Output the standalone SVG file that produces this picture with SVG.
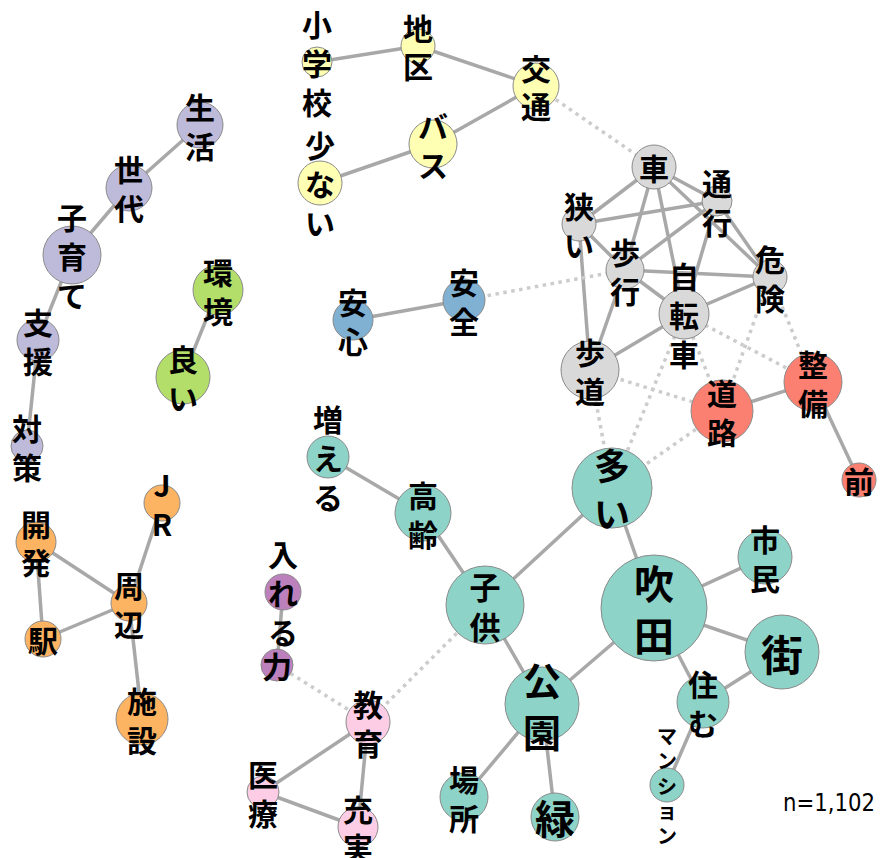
<svg xmlns="http://www.w3.org/2000/svg" width="882" height="858" viewBox="0 0 882 858">
  <style>
    .e { stroke: #a8a8a8; stroke-width: 3.5; fill: none; }
    .d { stroke: #cccccc; stroke-width: 3.5; stroke-dasharray: 3.5 4.5; fill: none; }
    circle { stroke: #8a8a8a; stroke-width: 1; }
    .c1 { fill: #bebada; }
    .c2 { fill: #b3de69; }
    .c3 { fill: #ffffb3; }
    .c4 { fill: #80b1d3; }
    .c5 { fill: #d9d9d9; }
    .c6 { fill: #fb8072; }
    .c7 { fill: #8dd3c7; }
    .c8 { fill: #bc80bd; }
    .c9 { fill: #fccde5; }
    .c10 { fill: #fdb462; }
    text { font-family: "Noto Sans CJK JP", "Noto Sans", sans-serif; font-size: 30px; font-weight: 700; fill: #000; text-anchor: middle; dominant-baseline: central; }
  </style>
  <rect width="882" height="858" fill="#ffffff"/>

  <!-- connectors -->
  <g id="edges">
    <line class="e" x1="200" y1="125" x2="129" y2="188"/>
    <line class="e" x1="129" y1="188" x2="72" y2="255"/>
    <line class="e" x1="72" y1="255" x2="38" y2="340"/>
    <line class="e" x1="38" y1="340" x2="27" y2="446"/>
    <line class="e" x1="218" y1="290" x2="183" y2="377"/>
    <line class="e" x1="317" y1="62" x2="418" y2="46"/>
    <line class="e" x1="418" y1="46" x2="536" y2="86"/>
    <line class="e" x1="536" y1="86" x2="433" y2="144"/>
    <line class="e" x1="433" y1="144" x2="320" y2="183"/>
    <line class="e" x1="353" y1="320" x2="464" y2="300"/>
    <line class="e" x1="654" y1="167" x2="579" y2="224"/>
    <line class="e" x1="654" y1="167" x2="717" y2="201"/>
    <line class="e" x1="654" y1="167" x2="625" y2="270"/>
    <line class="e" x1="654" y1="167" x2="684" y2="314"/>
    <line class="e" x1="654" y1="167" x2="770" y2="277"/>
    <line class="e" x1="579" y1="224" x2="717" y2="201"/>
    <line class="e" x1="579" y1="224" x2="625" y2="270"/>
    <line class="e" x1="579" y1="224" x2="590" y2="370"/>
    <line class="e" x1="717" y1="201" x2="625" y2="270"/>
    <line class="e" x1="717" y1="201" x2="684" y2="314"/>
    <line class="e" x1="717" y1="201" x2="770" y2="277"/>
    <line class="e" x1="625" y1="270" x2="770" y2="277"/>
    <line class="e" x1="625" y1="270" x2="684" y2="314"/>
    <line class="e" x1="625" y1="270" x2="590" y2="370"/>
    <line class="e" x1="684" y1="314" x2="770" y2="277"/>
    <line class="e" x1="684" y1="314" x2="590" y2="370"/>
    <line class="e" x1="722" y1="411" x2="813" y2="382"/>
    <line class="e" x1="813" y1="382" x2="859" y2="480"/>
    <line class="e" x1="328" y1="457" x2="423" y2="513"/>
    <line class="e" x1="423" y1="513" x2="485" y2="605"/>
    <line class="e" x1="485" y1="605" x2="612" y2="488"/>
    <line class="e" x1="485" y1="605" x2="542" y2="704"/>
    <line class="e" x1="612" y1="488" x2="654" y2="608"/>
    <line class="e" x1="654" y1="608" x2="542" y2="704"/>
    <line class="e" x1="654" y1="608" x2="765" y2="557"/>
    <line class="e" x1="654" y1="608" x2="782" y2="652"/>
    <line class="e" x1="654" y1="608" x2="703" y2="702"/>
    <line class="e" x1="703" y1="702" x2="782" y2="652"/>
    <line class="e" x1="703" y1="702" x2="667" y2="785"/>
    <line class="e" x1="542" y1="704" x2="464" y2="797"/>
    <line class="e" x1="542" y1="704" x2="555" y2="817"/>
    <line class="e" x1="283" y1="592" x2="277" y2="665"/>
    <line class="e" x1="368" y1="722" x2="263" y2="792"/>
    <line class="e" x1="368" y1="722" x2="358" y2="827"/>
    <line class="e" x1="263" y1="792" x2="358" y2="827"/>
    <line class="e" x1="36" y1="542" x2="129" y2="603"/>
    <line class="e" x1="36" y1="542" x2="43" y2="639"/>
    <line class="e" x1="43" y1="639" x2="129" y2="603"/>
    <line class="e" x1="162" y1="503" x2="129" y2="603"/>
    <line class="e" x1="129" y1="603" x2="142" y2="719"/>
    <line class="d" x1="536" y1="86" x2="654" y2="167"/>
    <line class="d" x1="464" y1="300" x2="625" y2="270"/>
    <line class="d" x1="770" y1="277" x2="813" y2="382"/>
    <line class="d" x1="770" y1="277" x2="722" y2="411"/>
    <line class="d" x1="684" y1="314" x2="813" y2="382"/>
    <line class="d" x1="684" y1="314" x2="722" y2="411"/>
    <line class="d" x1="684" y1="314" x2="612" y2="488"/>
    <line class="d" x1="590" y1="370" x2="722" y2="411"/>
    <line class="d" x1="590" y1="370" x2="612" y2="488"/>
    <line class="d" x1="722" y1="411" x2="612" y2="488"/>
    <line class="d" x1="485" y1="605" x2="368" y2="722"/>
    <line class="d" x1="277" y1="665" x2="368" y2="722"/>
  </g>

  <!-- word nodes -->
  <g id="seikatsu"><circle class="c1" cx="200" cy="125" r="23"/><text><tspan x="200" y="106">生</tspan><tspan x="200" y="145">活</tspan></text></g>
  <g id="sedai"><circle class="c1" cx="129" cy="188" r="23"/><text><tspan x="129" y="168">世</tspan><tspan x="129" y="207">代</tspan></text></g>
  <g id="kosodate"><circle class="c1" cx="72" cy="255" r="29"/><text><tspan x="72" y="216">子</tspan><tspan x="72" y="255">育</tspan><tspan x="72" y="294">て</tspan></text></g>
  <g id="shien"><circle class="c1" cx="38" cy="340" r="21"/><text><tspan x="38" y="321">支</tspan><tspan x="38" y="360">援</tspan></text></g>
  <g id="taisaku"><circle class="c1" cx="27" cy="446" r="16"/><text><tspan x="27" y="427">対</tspan><tspan x="27" y="466">策</tspan></text></g>

  <g id="kankyo"><circle class="c2" cx="218" cy="290" r="25"/><text><tspan x="218" y="271">環</tspan><tspan x="218" y="310">境</tspan></text></g>
  <g id="yoi"><circle class="c2" cx="183" cy="377" r="27"/><text><tspan x="183" y="358">良</tspan><tspan x="183" y="397">い</tspan></text></g>

  <g id="shogakko"><circle class="c3" cx="317" cy="62" r="15"/><text><tspan x="317" y="23">小</tspan><tspan x="317" y="62">学</tspan><tspan x="317" y="101">校</tspan></text></g>
  <g id="chiku"><circle class="c3" cx="418" cy="46" r="17"/><text><tspan x="418" y="27">地</tspan><tspan x="418" y="65">区</tspan></text></g>
  <g id="kotsu"><circle class="c3" cx="536" cy="86" r="23"/><text><tspan x="536" y="67">交</tspan><tspan x="536" y="105">通</tspan></text></g>
  <g id="basu"><circle class="c3" cx="433" cy="144" r="24"/><text><tspan x="433" y="125">バ</tspan><tspan x="433" y="164">ス</tspan></text></g>
  <g id="sukunai"><circle class="c3" cx="320" cy="183" r="22"/><text><tspan x="320" y="144">少</tspan><tspan x="320" y="183">な</tspan><tspan x="320" y="222">い</tspan></text></g>

  <g id="anshin"><circle class="c4" cx="353" cy="320" r="20"/><text><tspan x="353" y="301">安</tspan><tspan x="353" y="340">心</tspan></text></g>
  <g id="anzen"><circle class="c4" cx="464" cy="300" r="21"/><text><tspan x="464" y="281">安</tspan><tspan x="464" y="320">全</tspan></text></g>

  <g id="kuruma"><circle class="c5" cx="654" cy="167" r="22"/><text><tspan x="654" y="167">車</tspan></text></g>
  <g id="tsuko"><circle class="c5" cx="717" cy="201" r="15"/><text><tspan x="717" y="182">通</tspan><tspan x="717" y="221">行</tspan></text></g>
  <g id="semai"><circle class="c5" cx="579" cy="224" r="17"/><text><tspan x="579" y="205">狭</tspan><tspan x="579" y="244">い</tspan></text></g>
  <g id="hoko"><circle class="c5" cx="625" cy="270" r="19"/><text><tspan x="625" y="251">歩</tspan><tspan x="625" y="290">行</tspan></text></g>
  <g id="kiken"><circle class="c5" cx="770" cy="277" r="17"/><text><tspan x="770" y="258">危</tspan><tspan x="770" y="297">険</tspan></text></g>
  <g id="jitensha"><circle class="c5" cx="684" cy="314" r="25"/><text><tspan x="684" y="275">自</tspan><tspan x="684" y="314">転</tspan><tspan x="684" y="353">車</tspan></text></g>
  <g id="hodo"><circle class="c5" cx="590" cy="370" r="29"/><text><tspan x="590" y="351">歩</tspan><tspan x="590" y="390">道</tspan></text></g>

  <g id="doro"><circle class="c6" cx="722" cy="411" r="31"/><text><tspan x="722" y="392">道</tspan><tspan x="722" y="431">路</tspan></text></g>
  <g id="seibi"><circle class="c6" cx="813" cy="382" r="29"/><text><tspan x="813" y="363">整</tspan><tspan x="813" y="402">備</tspan></text></g>
  <g id="mae"><circle class="c6" cx="859" cy="480" r="17"/><text><tspan x="859" y="480">前</tspan></text></g>

  <g id="ooi"><circle class="c7" cx="612" cy="488" r="40"/><text style="font-size:36px"><tspan x="612" y="464">多</tspan><tspan x="612" y="512">い</tspan></text></g>
  <g id="suita"><circle class="c7" cx="654" cy="608" r="53"/><text style="font-size:40px"><tspan x="654" y="582">吹</tspan><tspan x="654" y="634">田</tspan></text></g>
  <g id="shimin"><circle class="c7" cx="765" cy="557" r="27"/><text><tspan x="765" y="538">市</tspan><tspan x="765" y="577">民</tspan></text></g>
  <g id="machi"><circle class="c7" cx="782" cy="652" r="37"/><text style="font-size:42px"><tspan x="782" y="652">街</tspan></text></g>
  <g id="sumu"><circle class="c7" cx="703" cy="702" r="26"/><text><tspan x="703" y="683">住</tspan><tspan x="703" y="722">む</tspan></text></g>
  <g id="mansion"><circle class="c7" cx="667" cy="785" r="17"/><text style="font-size:20px"><tspan x="667" y="735">マ</tspan><tspan x="667" y="760">ン</tspan><tspan x="667" y="785">シ</tspan><tspan x="667" y="810">ョ</tspan><tspan x="667" y="835">ン</tspan></text></g>
  <g id="koen"><circle class="c7" cx="542" cy="704" r="37"/><text style="font-size:38px"><tspan x="542" y="678">公</tspan><tspan x="542" y="730">園</tspan></text></g>
  <g id="kodomo"><circle class="c7" cx="485" cy="605" r="39"/><text style="font-size:31px"><tspan x="485" y="585">子</tspan><tspan x="485" y="625">供</tspan></text></g>
  <g id="korei"><circle class="c7" cx="423" cy="513" r="28"/><text><tspan x="423" y="494">高</tspan><tspan x="423" y="533">齢</tspan></text></g>
  <g id="fueru"><circle class="c7" cx="328" cy="457" r="21"/><text><tspan x="328" y="418">増</tspan><tspan x="328" y="457">え</tspan><tspan x="328" y="496">る</tspan></text></g>
  <g id="basho"><circle class="c7" cx="464" cy="797" r="24"/><text><tspan x="464" y="778">場</tspan><tspan x="464" y="817">所</tspan></text></g>
  <g id="midori"><circle class="c7" cx="555" cy="817" r="24"/><text style="font-size:40px"><tspan x="555" y="817">緑</tspan></text></g>

  <g id="ireru"><circle class="c8" cx="283" cy="592" r="18"/><text><tspan x="283" y="553">入</tspan><tspan x="283" y="592">れ</tspan><tspan x="283" y="631">る</tspan></text></g>
  <g id="chikara"><circle class="c8" cx="277" cy="665" r="16"/><text><tspan x="277" y="665">力</tspan></text></g>

  <g id="kyoiku"><circle class="c9" cx="368" cy="722" r="22"/><text><tspan x="368" y="703">教</tspan><tspan x="368" y="742">育</tspan></text></g>
  <g id="iryo"><circle class="c9" cx="263" cy="792" r="16"/><text><tspan x="263" y="773">医</tspan><tspan x="263" y="812">療</tspan></text></g>
  <g id="jujitsu"><circle class="c9" cx="358" cy="827" r="20"/><text><tspan x="358" y="808">充</tspan><tspan x="358" y="846">実</tspan></text></g>

  <g id="jr"><circle class="c10" cx="162" cy="503" r="18"/><text><tspan x="162" y="484">J</tspan><tspan x="162" y="523">R</tspan></text></g>
  <g id="kaihatsu"><circle class="c10" cx="36" cy="542" r="20"/><text><tspan x="36" y="523">開</tspan><tspan x="36" y="561">発</tspan></text></g>
  <g id="shuhen"><circle class="c10" cx="129" cy="603" r="18"/><text><tspan x="129" y="584">周</tspan><tspan x="129" y="623">辺</tspan></text></g>
  <g id="eki"><circle class="c10" cx="43" cy="639" r="18"/><text><tspan x="43" y="639">駅</tspan></text></g>
  <g id="shisetsu"><circle class="c10" cx="142" cy="719" r="26"/><text><tspan x="142" y="700">施</tspan><tspan x="142" y="739">設</tspan></text></g>

  <!-- sample size -->
  <text x="875" y="803" style="font-family:'DejaVu Sans',sans-serif;font-size:24px;font-weight:normal;text-anchor:end" textLength="92" lengthAdjust="spacingAndGlyphs">n=1,102</text>
</svg>
